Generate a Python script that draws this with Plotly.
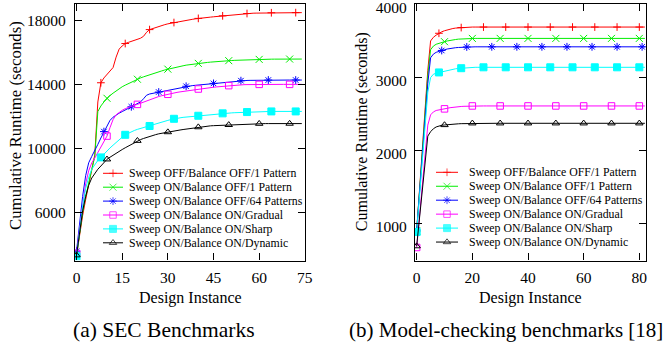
import plotly.graph_objects as go

# ---------------- data ----------------
SERIES_NAMES = [
    "Sweep OFF/Balance OFF/1 Pattern",
    "Sweep ON/Balance OFF/1 Pattern",
    "Sweep ON/Balance OFF/64 Patterns",
    "Sweep ON/Balance ON/Gradual",
    "Sweep ON/Balance ON/Sharp",
    "Sweep ON/Balance ON/Dynamic",
]

# (a) SEC benchmarks, design instance 0..74
sec_x = list(range(0, 75))
sec_red = [3300, 4600, 5800, 6800, 7700, 8500, 9600, 12900, 14100, 14400,
           14600, 14800, 15050, 15700, 16200, 16400, 16550, 16620, 16680, 16750,
           16820, 16880, 17000, 17250, 17420, 17490, 17560, 17620, 17680, 17730,
           17780, 17820, 17860, 17900, 17940, 17970, 18000, 18030, 18060, 18090,
           18120, 18140, 18160, 18180, 18200, 18220, 18240, 18260, 18280, 18300,
           18320, 18340, 18360, 18380, 18395, 18410, 18425, 18435, 18445, 18450,
           18455, 18460, 18465, 18470, 18472, 18474, 18476, 18478, 18480, 18480,
           18480, 18480, 18480, 18480, 18480]
sec_green = [3300, 4700, 6000, 7000, 7900, 8600, 9500, 12300, 12650, 12900,
             13130, 13300, 13450, 13600, 13730, 13850, 13950, 14050, 14150, 14240,
             14320, 14400, 14470, 14540, 14600, 14660, 14720, 14780, 14840, 14900,
             14950, 15000, 15040, 15080, 15120, 15160, 15200, 15230, 15260, 15290,
             15310, 15330, 15350, 15370, 15390, 15410, 15430, 15440, 15455, 15470,
             15480, 15490, 15500, 15510, 15520, 15530, 15540, 15545, 15550, 15555,
             15560, 15565, 15570, 15572, 15574, 15576, 15578, 15580, 15580, 15580,
             15580, 15580, 15580, 15580, 15580]
sec_blue = [3580, 5300, 7000, 8300, 9100, 9500, 9850, 10250, 10650, 11050,
            11450, 11750, 11950, 12100, 12200, 12300, 12400, 12500, 12600, 12700,
            12800, 12900, 13100, 13320, 13400, 13440, 13480, 13520, 13560, 13600,
            13640, 13680, 13720, 13760, 13800, 13840, 13880, 13900, 13920, 13940,
            13960, 13980, 14000, 14020, 14040, 14060, 14080, 14100, 14120, 14140,
            14160, 14180, 14200, 14215, 14230, 14240, 14245, 14250, 14255, 14260,
            14265, 14270, 14270, 14270, 14270, 14270, 14270, 14270, 14270, 14270,
            14270, 14270, 14270, 14270, 14270]
sec_magenta = [3440, 5000, 6600, 7800, 8600, 9100, 9400, 9750, 10100, 10450,
               10770, 11300, 11800, 12100, 12250, 12380, 12480, 12570, 12640, 12700,
               12750, 12820, 12900, 12980, 13060, 13130, 13190, 13240, 13290, 13340,
               13380, 13420, 13460, 13500, 13530, 13560, 13590, 13620, 13650, 13680,
               13710, 13730, 13760, 13780, 13800, 13820, 13840, 13860, 13880, 13900,
               13920, 13935, 13950, 13960, 13970, 13980, 13985, 13990, 13995, 14000,
               14000, 14000, 14000, 14000, 14000, 14000, 14000, 14000, 14000, 14000,
               14000, 14000, 14000, 14000, 14000]
sec_cyan = [3260, 4900, 6400, 7500, 8200, 8700, 9000, 9250, 9440, 9650,
            9850, 10030, 10200, 10380, 10550, 10700, 10850, 10950, 11040, 11120,
            11190, 11250, 11310, 11360, 11400, 11460, 11520, 11580, 11640, 11700,
            11750, 11800, 11850, 11880, 11910, 11940, 11960, 11980, 12000, 12020,
            12040, 12060, 12080, 12100, 12120, 12140, 12160, 12175, 12190, 12200,
            12210, 12220, 12230, 12240, 12250, 12260, 12270, 12280, 12285, 12290,
            12295, 12300, 12305, 12310, 12310, 12310, 12310, 12310, 12310, 12310,
            12310, 12310, 12310, 12310, 12310]
sec_black = [3330, 4800, 6100, 7000, 7700, 8150, 8450, 8700, 8900, 9100,
             9320, 9450, 9580, 9700, 9820, 9930, 10040, 10150, 10250, 10360,
             10480, 10550, 10620, 10690, 10750, 10810, 10860, 10910, 10950, 10990,
             11020, 11060, 11090, 11120, 11150, 11180, 11210, 11240, 11270, 11300,
             11330, 11350, 11370, 11390, 11410, 11420, 11430, 11440, 11450, 11460,
             11470, 11480, 11490, 11500, 11510, 11520, 11525, 11530, 11535, 11540,
             11545, 11550, 11550, 11550, 11550, 11550, 11550, 11550, 11550, 11550,
             11550, 11550, 11550, 11550, 11550]

# (b) Model-checking benchmarks, design instance 0..82
mc_x = list(range(0, 83))
mc_red = [900, 1450, 2000, 2550, 3100, 3500, 3550, 3580, 3605, 3625,
          3640, 3652, 3662, 3670, 3676, 3680, 3683, 3686, 3688, 3689,
          3690, 3690, 3690, 3690, 3690, 3690, 3690, 3690, 3690, 3690,
          3690, 3690, 3690, 3690, 3690, 3690, 3690, 3690, 3690, 3690,
          3690, 3690, 3690, 3690, 3690, 3690, 3690, 3690, 3690, 3690,
          3690, 3690, 3690, 3690, 3690, 3690, 3690, 3690, 3690, 3690,
          3690, 3690, 3690, 3690, 3690, 3690, 3690, 3690, 3690, 3690,
          3690, 3690, 3690, 3690, 3690, 3690, 3690, 3690, 3690, 3690,
          3690, 3690, 3690]
mc_green = [900, 1430, 1960, 2500, 3030, 3380, 3430, 3455, 3470, 3480,
            3490, 3500, 3510, 3515, 3520, 3525, 3528, 3530, 3532, 3534,
            3535, 3535, 3535, 3535, 3535, 3535, 3535, 3535, 3535, 3535,
            3535, 3535, 3535, 3535, 3535, 3535, 3535, 3535, 3535, 3535,
            3535, 3535, 3535, 3535, 3535, 3535, 3535, 3535, 3535, 3535,
            3535, 3535, 3535, 3535, 3535, 3535, 3535, 3535, 3535, 3535,
            3535, 3535, 3535, 3535, 3535, 3535, 3535, 3535, 3535, 3535,
            3535, 3535, 3535, 3535, 3535, 3535, 3535, 3535, 3535, 3535,
            3535, 3535, 3535]
mc_blue = [915, 1420, 1920, 2420, 2920, 3270, 3320, 3345, 3360, 3370,
           3380, 3390, 3398, 3404, 3408, 3411, 3414, 3416, 3418, 3419,
           3420, 3420, 3420, 3420, 3420, 3420, 3420, 3420, 3420, 3420,
           3420, 3420, 3420, 3420, 3420, 3420, 3420, 3420, 3420, 3420,
           3420, 3420, 3420, 3420, 3420, 3420, 3420, 3420, 3420, 3420,
           3420, 3420, 3420, 3420, 3420, 3420, 3420, 3420, 3420, 3420,
           3420, 3420, 3420, 3420, 3420, 3420, 3420, 3420, 3420, 3420,
           3420, 3420, 3420, 3420, 3420, 3420, 3420, 3420, 3420, 3420,
           3420, 3420, 3420]
mc_magenta = [678, 1100, 1550, 1950, 2350, 2490, 2530, 2550, 2560, 2567,
              2572, 2580, 2588, 2594, 2598, 2602, 2605, 2607, 2609, 2611,
              2612, 2612, 2612, 2612, 2612, 2612, 2612, 2612, 2612, 2612,
              2612, 2612, 2612, 2612, 2612, 2612, 2612, 2612, 2612, 2612,
              2612, 2612, 2612, 2612, 2612, 2612, 2612, 2612, 2612, 2612,
              2612, 2612, 2612, 2612, 2612, 2612, 2612, 2612, 2612, 2612,
              2612, 2612, 2612, 2612, 2612, 2612, 2612, 2612, 2612, 2612,
              2612, 2612, 2612, 2612, 2612, 2612, 2612, 2612, 2612, 2612,
              2612, 2612, 2612]
mc_cyan = [890, 1380, 1870, 2400, 2800, 3000, 3045, 3060, 3070, 3080,
           3090, 3100, 3108, 3114, 3120, 3124, 3128, 3131, 3134, 3136,
           3138, 3140, 3140, 3140, 3140, 3140, 3140, 3140, 3140, 3140,
           3140, 3140, 3140, 3140, 3140, 3140, 3140, 3140, 3140, 3140,
           3140, 3140, 3140, 3140, 3140, 3140, 3140, 3140, 3140, 3140,
           3140, 3140, 3140, 3140, 3140, 3140, 3140, 3140, 3140, 3140,
           3140, 3140, 3140, 3140, 3140, 3140, 3140, 3140, 3140, 3140,
           3140, 3140, 3140, 3140, 3140, 3140, 3140, 3140, 3140, 3140,
           3140, 3140, 3140]
mc_black = [696, 1080, 1470, 1860, 2200, 2260, 2300, 2325, 2340, 2348,
            2352, 2357, 2361, 2364, 2366, 2368, 2370, 2371, 2372, 2373,
            2375, 2375, 2375, 2375, 2375, 2375, 2375, 2375, 2375, 2375,
            2375, 2375, 2375, 2375, 2375, 2375, 2375, 2375, 2375, 2375,
            2375, 2375, 2375, 2375, 2375, 2375, 2375, 2375, 2375, 2375,
            2375, 2375, 2375, 2375, 2375, 2375, 2375, 2375, 2375, 2375,
            2375, 2375, 2375, 2375, 2375, 2375, 2375, 2375, 2375, 2375,
            2375, 2375, 2375, 2375, 2375, 2375, 2375, 2375, 2375, 2375,
            2375, 2375, 2375]

sec_ticks_x = [0, 15, 30, 45, 60, 75]
sec_ticks_y = [6000, 10000, 14000, 18000]
mc_ticks_x = [0, 20, 40, 60, 80]
mc_ticks_y = [1000, 2000, 3000, 4000]

# ---------------- styles ----------------
COLORS = ["#ff0000", "#00ee00", "#0000ff", "#ff00ff", "#00ffff", "#000000"]
SYMBOLS = ["cross-thin-open", "x-thin-open", "asterisk-open",
           "square-open", "square", "triangle-up-open"]
SIZES = [5.5, 7, 6.5, 6.5, 7, 6.5]
POINT_EVERY = [8, 10, 9, 10, 8, 10]
FONT = "Liberation Serif"

W, H = 667, 347
L_X = (75, 305)
R_X = (415, 646)
Y_PX = (4.3, 260.5)


def dom(px0, px1, total):
    return [px0 / total, px1 / total]


fig = go.Figure()

panels = [
    ("x", "y", sec_x, [sec_red, sec_green, sec_blue, sec_magenta, sec_cyan, sec_black]),
    ("x2", "y2", mc_x, [mc_red, mc_green, mc_blue, mc_magenta, mc_cyan, mc_black]),
]

for xa, ya, xs, ys_list in panels:
    for i, ys in enumerate(ys_list):
        fig.add_trace(go.Scatter(
            x=xs, y=ys, mode="lines", xaxis=xa, yaxis=ya,
            line=dict(color=COLORS[i], width=1), showlegend=False,
            name=SERIES_NAMES[i], hoverinfo="skip"))
        step = POINT_EVERY[i]
        fig.add_trace(go.Scatter(
            x=xs[::step], y=ys[::step], mode="markers", xaxis=xa, yaxis=ya,
            marker=dict(symbol=SYMBOLS[i], size=SIZES[i], color=COLORS[i],
                        line=dict(color=COLORS[i], width=1)),
            showlegend=False, name=SERIES_NAMES[i], hoverinfo="skip"))

# ---------------- custom legends (pixel overlay axis) ----------------
legends = [
    dict(key_x0=103, key_x1=123, text_x=127, row0=173.3, dy=13.9),
    dict(key_x0=436, key_x1=458, text_x=467, row0=172.3, dy=13.95),
]
shapes = []
annotations = []
for lg in legends:
    kx, ky = [], []
    for i, name in enumerate(SERIES_NAMES):
        yy = lg["row0"] + i * lg["dy"]
        shapes.append(dict(type="line", xref="x3", yref="y3",
                           x0=lg["key_x0"], x1=lg["key_x1"], y0=yy, y1=yy,
                           line=dict(color=COLORS[i], width=1)))
        kx.append((lg["key_x0"] + lg["key_x1"]) / 2)
        ky.append(yy)
        annotations.append(dict(xref="x3", yref="y3", x=lg["text_x"], y=yy,
                                text=name, showarrow=False, xanchor="left",
                                yanchor="middle",
                                font=dict(family=FONT, size=11.8, color="#000")))
    fig.add_trace(go.Scatter(
        x=kx, y=ky, mode="markers", xaxis="x3", yaxis="y3",
        marker=dict(symbol=SYMBOLS, size=SIZES, color=COLORS,
                    line=dict(color=COLORS, width=1)),
        showlegend=False, hoverinfo="skip"))

# axis titles and captions
annotations += [
    dict(xref="x3", yref="y3", x=190, y=298, text="Design Instance", showarrow=False,
         font=dict(family=FONT, size=16, color="#000")),
    dict(xref="x3", yref="y3", x=530.5, y=298, text="Design Instance", showarrow=False,
         font=dict(family=FONT, size=16, color="#000")),
    dict(xref="x3", yref="y3", x=15, y=126, text="Cumulative Runtime (seconds)",
         showarrow=False, textangle=-90, font=dict(family=FONT, size=16.8, color="#000")),
    dict(xref="x3", yref="y3", x=361.7, y=131.5, text="Cumulative Runtime (seconds)",
         showarrow=False, textangle=-90, font=dict(family=FONT, size=16, color="#000")),
    dict(xref="x3", yref="y3", x=163.5, y=330, text="(a) SEC Benchmarks",
         showarrow=False, font=dict(family=FONT, size=21.5, color="#000")),
    dict(xref="x3", yref="y3", x=505.5, y=330, text="(b) Model-checking benchmarks [18]",
         showarrow=False, font=dict(family=FONT, size=21, color="#000")),
]

axis_common = dict(showgrid=False, zeroline=False, showline=True, linecolor="#000",
                   linewidth=1.2, mirror="ticks", ticks="inside", ticklen=7,
                   tickwidth=1, tickcolor="#000", tickformat="d",
                   automargin=False,
                   tickfont=dict(family=FONT, size=15.5, color="#000"))

fig.update_layout(
    width=W, height=H, autosize=False,
    margin=dict(l=0, r=0, t=0, b=0, pad=0, autoexpand=False),
    paper_bgcolor="white", plot_bgcolor="rgba(0,0,0,0)",
    showlegend=False,
    xaxis=dict(domain=dom(*L_X, W), range=[-0.5, 75.05], tickvals=sec_ticks_x,
               anchor="y", ticklabelstandoff=3, **axis_common),
    yaxis=dict(domain=[1 - Y_PX[1] / H, 1 - Y_PX[0] / H], range=[3000, 19000],
               tickvals=sec_ticks_y, anchor="x", ticklabelstandoff=5, **axis_common),
    xaxis2=dict(domain=dom(*R_X, W), range=[-0.6, 82.4], tickvals=mc_ticks_x,
                anchor="y2", ticklabelstandoff=3, **axis_common),
    yaxis2=dict(domain=[1 - Y_PX[1] / H, 1 - Y_PX[0] / H], range=[500, 4001],
                tickvals=mc_ticks_y, anchor="x2", ticklabelstandoff=4,
                ticklabelshift=3, ticklabeloverflow="allow", **axis_common),
    xaxis3=dict(domain=[0, 1], range=[0, W], visible=False, anchor="y3", fixedrange=True),
    yaxis3=dict(domain=[0, 1], range=[H, 0], visible=False, anchor="x3", fixedrange=True),
    shapes=shapes,
    annotations=annotations,
)

fig.write_html("out.html", config={"displayModeBar": False},
               post_script="document.body.style.margin='0px';"
                           "document.documentElement.style.overflow='hidden';")
